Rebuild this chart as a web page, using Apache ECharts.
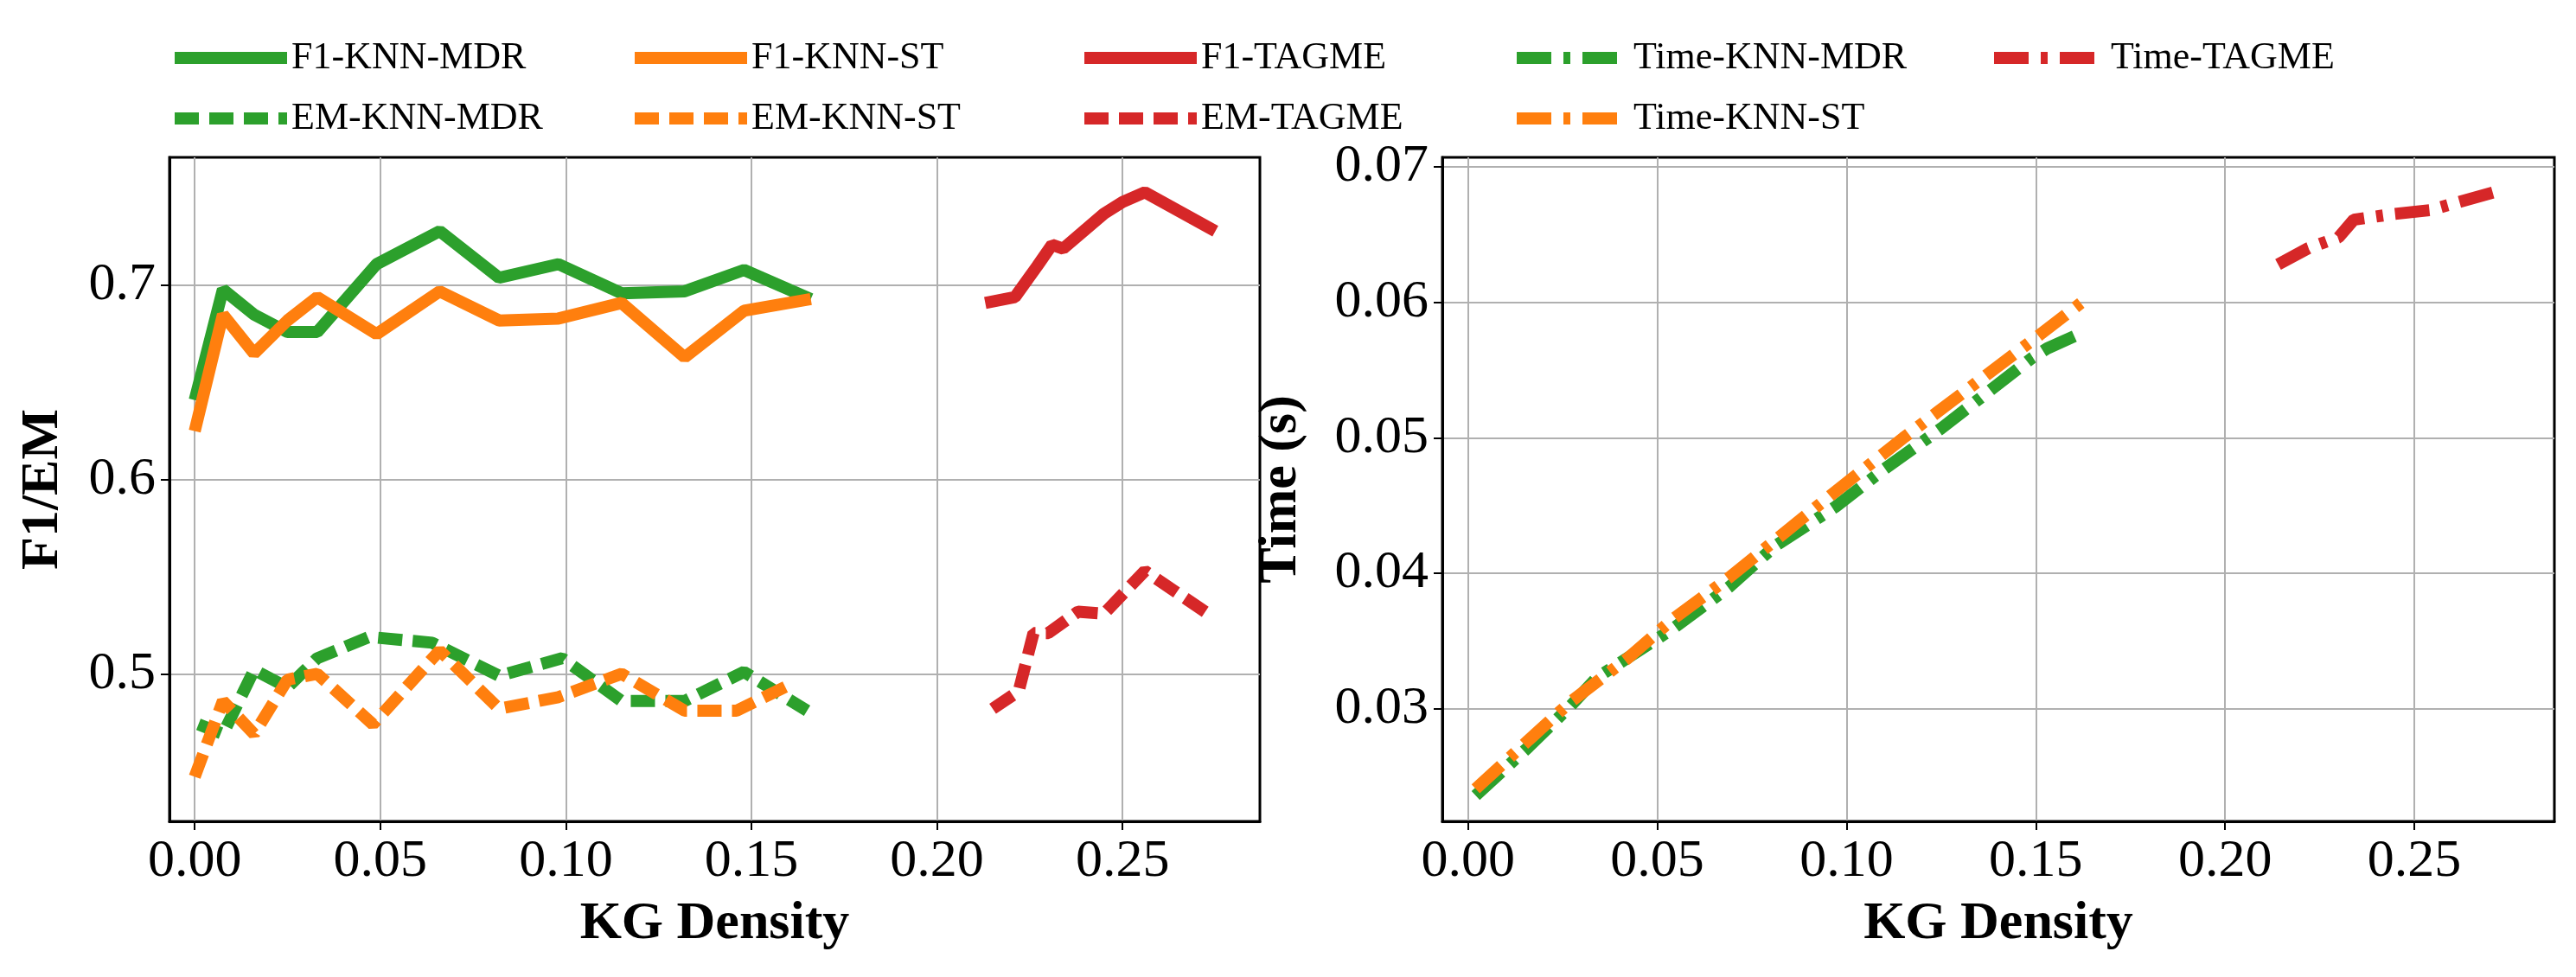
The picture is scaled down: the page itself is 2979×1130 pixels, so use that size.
<!DOCTYPE html>
<html>
<head>
<meta charset="utf-8">
<script src="https://cdn.jsdelivr.net/npm/echarts@6/dist/echarts.min.js"></script>
<style>html,body{margin:0;padding:0;background:#fff}#chart{width:2979px;height:1130px}</style>
</head>
<body>
<div id="chart"></div>
<script>
// KNN densities (shared x for the left plot)
var knnX = [0.000, 0.0076, 0.016, 0.025, 0.033, 0.049, 0.066, 0.082, 0.098, 0.115, 0.132, 0.148, 0.166];
var f1KnnMdr = [0.641, 0.698, 0.685, 0.676, 0.676, 0.711, 0.728, 0.704, 0.711, 0.696, 0.697, 0.708, 0.693];
var f1KnnSt = [0.625, 0.685, 0.665, 0.682, 0.694, 0.675, 0.697, 0.682, 0.683, 0.691, 0.663, 0.687, 0.693];
var emKnnMdrX = [0.001, 0.0076, 0.016, 0.025, 0.033, 0.047, 0.064, 0.082, 0.099, 0.115, 0.132, 0.148, 0.165];
var emKnnMdr = [0.474, 0.469, 0.502, 0.493, 0.508, 0.519, 0.516, 0.499, 0.508, 0.486, 0.486, 0.501, 0.481];
var emKnnStX = [0.000, 0.0076, 0.016, 0.025, 0.033, 0.048, 0.066, 0.082, 0.098, 0.115, 0.132, 0.146, 0.161];
var emKnnSt = [0.447, 0.486, 0.469, 0.497, 0.500, 0.474, 0.512, 0.482, 0.488, 0.500, 0.481, 0.481, 0.495];
var f1TagmeX = [0.213, 0.221, 0.227, 0.231, 0.234, 0.245, 0.250, 0.256, 0.275];
var f1Tagme = [0.691, 0.694, 0.710, 0.721, 0.719, 0.737, 0.743, 0.748, 0.728];
var emTagmeX = [0.215, 0.222, 0.226, 0.230, 0.238, 0.245, 0.256, 0.273];
var emTagme = [0.482, 0.491, 0.521, 0.521, 0.532, 0.531, 0.553, 0.531];
// right plot
var tMdrX = [0.002, 0.016, 0.027, 0.034, 0.054, 0.069, 0.081, 0.097, 0.110, 0.125, 0.149, 0.153, 0.161];
var tMdr = [0.0236, 0.0272, 0.0302, 0.0323, 0.0359, 0.0390, 0.0420, 0.0449, 0.0477, 0.0507, 0.0559, 0.0566, 0.0576];
var tStX = [0.002, 0.016, 0.027, 0.042, 0.054, 0.069, 0.096, 0.115, 0.124, 0.151, 0.164];
var tSt = [0.0241, 0.0277, 0.0305, 0.0337, 0.0366, 0.0397, 0.0458, 0.0500, 0.0519, 0.0576, 0.0604];
var tTagmeX = [0.214, 0.222, 0.230, 0.234, 0.244, 0.254, 0.272];
var tTagme = [0.0628, 0.0640, 0.0648, 0.0661, 0.0665, 0.0668, 0.0682];
var xTicks = [0, 0.05, 0.10, 0.15, 0.20, 0.25];

var green = '#2ca02c', orange = '#ff7f0e', red = '#d62728';
var font = 'Liberation Serif';
var dashed = [28, 12];
var dashDot = [40, 14, 8, 14];

function pairs(xs, ys) {
    return xs.map(function (x, i) { return [x, ys[i]]; });
}
function line(name, xs, ys, color, type, idx) {
    return {
        name: name, type: 'line', xAxisIndex: idx, yAxisIndex: idx,
        data: pairs(xs, ys), symbol: 'none', animation: false,
        lineStyle: { color: color, width: 14, type: type },
        itemStyle: { color: color }
    };
}
function xAxis(idx) {
    return {
        type: 'value', gridIndex: idx, min: -0.0068, max: 0.287, interval: 0.05,
        name: 'KG Density', nameLocation: 'middle', nameGap: 88,
        nameTextStyle: { fontFamily: font, fontSize: 62, fontWeight: 'bold', color: '#000' },
        axisLine: { onZero: false, lineStyle: { color: '#000', width: 3 } },
        axisTick: { show: true, length: 10, lineStyle: { color: '#000', width: 2 }, customValues: xTicks },
        axisLabel: { fontFamily: font, fontSize: 62, color: '#000', margin: 16,
            customValues: xTicks, formatter: function (v) { return v.toFixed(2); } },
        splitLine: { show: true, lineStyle: { color: '#b0b0b0', width: 2 } }
    };
}
function yAxis(idx, min, max, ticks, digits, name, gap) {
    return {
        type: 'value', gridIndex: idx, min: min, max: max,
        name: name, nameLocation: 'middle', nameGap: gap,
        nameTextStyle: { fontFamily: font, fontSize: 62, fontWeight: 'bold', color: '#000' },
        axisLine: { show: true, onZero: false, lineStyle: { color: '#000', width: 3 } },
        axisTick: { show: true, length: 10, lineStyle: { color: '#000', width: 2 }, customValues: ticks },
        axisLabel: { fontFamily: font, fontSize: 62, color: '#000', margin: 16, customValues: ticks,
            formatter: function (v) { return v.toFixed(digits); } },
        splitLine: { show: true, lineStyle: { color: '#b0b0b0', width: 2 } }
    };
}
function legend(names, left) {
    return {
        data: names, left: left, top: 40, orient: 'vertical', itemGap: 26,
        itemWidth: 130, itemHeight: 14,
        itemStyle: { opacity: 0 },
        lineStyle: { width: 14 },
        textStyle: { fontFamily: font, fontSize: 44, color: '#000' }
    };
}

var chart = echarts.init(document.getElementById('chart'));
chart.setOption({
    backgroundColor: '#fff',
    legend: [
        legend(['F1-KNN-MDR', 'EM-KNN-MDR'], 190),
        legend(['F1-KNN-ST', 'EM-KNN-ST'], 722),
        legend(['F1-TAGME', 'EM-TAGME'], 1242),
        legend(['Time-KNN-MDR', 'Time-KNN-ST'], 1742),
        legend(['Time-TAGME'], 2294)
    ],
    grid: [
        { left: 196, top: 182, width: 1261, height: 768, show: true, borderColor: '#000', borderWidth: 3 },
        { left: 1668, top: 182, width: 1286, height: 768, show: true, borderColor: '#000', borderWidth: 3 }
    ],
    xAxis: [xAxis(0), xAxis(1)],
    yAxis: [
        yAxis(0, 0.424, 0.766, [0.5, 0.6, 0.7], 1, 'F1/EM', 115),
        yAxis(1, 0.0217, 0.0707, [0.03, 0.04, 0.05, 0.06, 0.07], 2, 'Time (s)', 155)
    ],
    series: [
        line('F1-KNN-MDR', knnX, f1KnnMdr, green, 'solid', 0),
        line('F1-KNN-ST', knnX, f1KnnSt, orange, 'solid', 0),
        line('F1-TAGME', f1TagmeX, f1Tagme, red, 'solid', 0),
        line('EM-KNN-MDR', emKnnMdrX, emKnnMdr, green, dashed, 0),
        line('EM-KNN-ST', emKnnStX, emKnnSt, orange, dashed, 0),
        line('EM-TAGME', emTagmeX, emTagme, red, dashed, 0),
        line('Time-KNN-MDR', tMdrX, tMdr, green, dashDot, 1),
        line('Time-KNN-ST', tStX, tSt, orange, dashDot, 1),
        line('Time-TAGME', tTagmeX, tTagme, red, dashDot, 1)
    ]
});
</script>
</body>
</html>
